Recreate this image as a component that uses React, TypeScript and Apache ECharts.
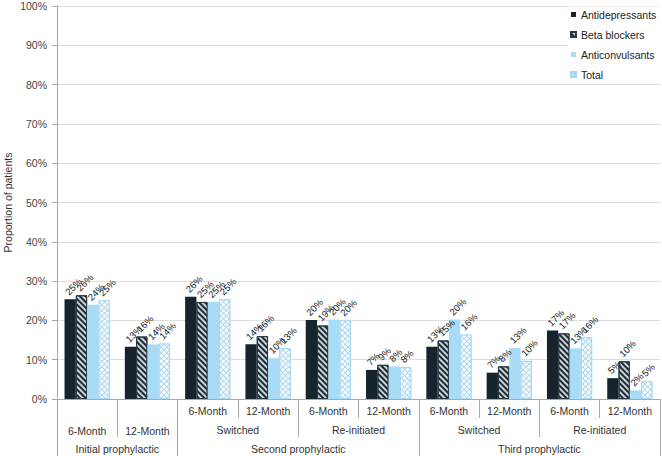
import { useEffect, useRef } from 'react';
import * as echarts from 'echarts';

// ---- data ----
const months = ['6-Month', '12-Month', '6-Month', '12-Month', '6-Month', '12-Month', '6-Month', '12-Month', '6-Month', '12-Month'];
const subGroups = ['', 'Switched', 'Re-initiated', 'Switched', 'Re-initiated'];
const topGroups = ['Initial prophylactic', 'Second prophylactic', 'Third prophylactic'];
const topGroupSpans = [2, 4, 4];

const antidepressants = [25.4, 13.3, 26.0, 13.9, 20.1, 7.4, 13.3, 6.7, 17.4, 5.3];
const betaBlockers = [26.4, 15.9, 24.7, 16.0, 18.7, 8.7, 14.9, 8.3, 16.7, 9.6];
const anticonvulsants = [24.0, 13.9, 24.7, 10.4, 20.2, 8.3, 20.2, 13.0, 12.9, 2.2];
const total = [25.1, 14.1, 25.4, 12.9, 20.0, 8.1, 16.4, 9.7, 15.7, 4.6];

const seriesNames = ['Antidepressants', 'Beta blockers', 'Anticonvulsants', 'Total'];

const FONT = 'Liberation Sans, Arial, Helvetica, sans-serif';
const AXIS_COLOR = '#a9a9a9';

export default function App() {
  const ref = useRef<HTMLDivElement>(null);

  useEffect(() => {
    if (!ref.current) return;
    const chart = echarts.init(ref.current, undefined, { renderer: 'svg' });

    const perSub = months.length / subGroups.length;
    const starts: number[] = [];
    let acc = 0;
    topGroupSpans.forEach((s) => { starts.push(acc); acc += s; });
    const centers = topGroupSpans.map((s, i) => starts[i] + s / 2);

    const label = {
      show: true,
      position: 'top',
      distance: 2.5,
      rotate: 45,
      align: 'left',
      verticalAlign: 'bottom',
      fontSize: 9.5,
      fontFamily: FONT,
      color: '#1a1a1a',
      formatter: (p: any) => Math.round(p.value) + '%',
    };

    const mk = (name: string, data: number[], itemStyle: any) => ({
      name,
      type: 'bar',
      data,
      xAxisIndex: 0,
      yAxisIndex: 0,
      barGap: '0%',
      barCategoryGap: '25%',
      itemStyle,
      label,
    });

    const option: any = {
      animation: false,
      backgroundColor: '#ffffff',
      textStyle: { fontFamily: FONT },
      grid: { left: 57, right: 2, top: 6, bottom: 57, containLabel: false, outerBoundsMode: 'none' },
      legend: {
        data: seriesNames,
        orient: 'vertical',
        left: 568,
        top: 6.5,
        padding: [2, 14, 2, 2],
        backgroundColor: '#ffffff',
        itemWidth: 5,
        itemHeight: 5,
        itemGap: 8,
        icon: 'rect',
        textStyle: { fontSize: 10.5, color: '#222', fontFamily: FONT, lineHeight: 12 },
      },
      xAxis: [
        {
          type: 'category',
          data: months,
          position: 'bottom',
          axisLine: { show: true, lineStyle: { color: AXIS_COLOR } },
          axisTick: { show: true, interval: 0, length: 19, lineStyle: { color: AXIS_COLOR } },
          axisLabel: {
            interval: 0,
            margin: 2,
            lineHeight: 20,
            fontSize: 10.5,
            color: '#333',
            fontFamily: FONT,
            formatter: (v: string, i: number) => (subGroups[Math.floor(i / perSub)] === '' ? '\n' + v : v),
          },
        },
        {
          type: 'category',
          data: months,
          position: 'bottom',
          axisLine: { show: false },
          axisLabel: { show: false },
          axisTick: {
            show: true,
            length: 38,
            lineStyle: { color: AXIS_COLOR },
            interval: (i: number) =>
              (i > 0 && i % perSub === 0) || (i % perSub !== 0 && subGroups[Math.floor(i / perSub)] === ''),
          },
        },
        {
          type: 'category',
          data: subGroups,
          position: 'bottom',
          axisLine: { show: false },
          axisTick: { show: false },
          axisLabel: { interval: 0, margin: 21, lineHeight: 20, fontSize: 10.5, color: '#333', fontFamily: FONT },
        },
        {
          type: 'category',
          data: months,
          position: 'bottom',
          axisLine: { show: false },
          axisLabel: { show: false },
          axisTick: {
            show: true,
            length: 57,
            lineStyle: { color: AXIS_COLOR },
            interval: (i: number) => starts.includes(i),
          },
        },
        {
          type: 'value',
          position: 'bottom',
          min: 0,
          max: months.length,
          interval: 1,
          axisLine: { show: false },
          axisTick: { show: false },
          splitLine: { show: false },
          axisLabel: {
            margin: 40,
            lineHeight: 20,
            fontSize: 10.5,
            color: '#333',
            fontFamily: FONT,
            showMinLabel: true,
            showMaxLabel: true,
            formatter: (v: number) => {
              const k = centers.indexOf(v);
              return k >= 0 ? topGroups[k] : '';
            },
          },
        },
      ],
      yAxis: {
        type: 'value',
        min: 0,
        max: 100,
        interval: 10,
        name: 'Proportion of patients',
        nameLocation: 'middle',
        nameGap: 44,
        nameMoveOverlap: false,
        nameTextStyle: { fontSize: 10.5, color: '#333', fontFamily: FONT },
        axisLine: { show: true, lineStyle: { color: AXIS_COLOR } },
        axisTick: { show: true, length: 5, lineStyle: { color: AXIS_COLOR } },
        axisLabel: { formatter: '{value}%', fontSize: 10.5, color: '#444', margin: 10, fontFamily: FONT },
        splitLine: { lineStyle: { color: '#dedede' } },
      },
      series: [
        mk(seriesNames[0], antidepressants, { color: '#15242d' }),
        mk(seriesNames[1], betaBlockers, {
          color: '#c9d3d8',
          borderColor: '#2b3a44',
          borderWidth: 1,
          decal: { symbol: 'rect', symbolSize: 1, dashArrayX: [1, 0], dashArrayY: [2, 2], rotation: Math.PI / 4, color: '#1b2a33' },
        }),
        mk(seriesNames[2], anticonvulsants, { color: '#a8dbf5' }),
        mk(seriesNames[3], total, {
          color: '#a8d6f0',
          borderColor: '#a8d6f0',
          borderWidth: 1,
          decal: { symbol: 'rect', symbolSize: 1, dashArrayX: [3, 1], dashArrayY: [3, 1], rotation: Math.PI / 4, color: '#ffffff' },
        }),
      ],
    };

    chart.setOption(option);
    return () => chart.dispose();
  }, []);

  return <div ref={ref} style={{ position: 'absolute', left: 0, top: 0, width: 662, height: 456 }} />;
}
